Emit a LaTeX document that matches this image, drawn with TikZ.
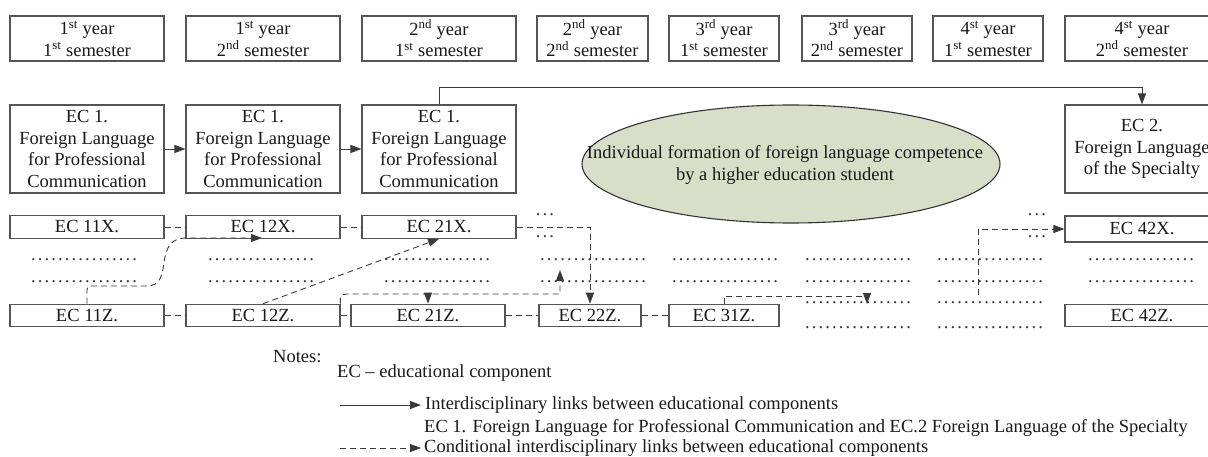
\documentclass[tikz,border=0pt]{standalone}
\usepackage{fontspec}
\setmainfont{Liberation Serif}
\usetikzlibrary{arrows.meta,shapes.geometric,calc}
\definecolor{boxline}{HTML}{555555}
\definecolor{linkline}{HTML}{3A3A3A}
\definecolor{sage}{HTML}{D9DEC8}
\definecolor{ellline}{HTML}{333333}
\newcommand\dotrow[1]{\hbox to #1pt{\xleaders\hbox to 6.75pt{\hss.\hss}\hfill}}
\newcommand\sups[1]{\textsuperscript{#1}}
\begin{document}
\begin{tikzpicture}[x=1pt,y=-1pt,
  every node/.style={font=\fontsize{18.5}{21.7}\selectfont, text=black!90, inner sep=0pt},
  box/.style={draw=boxline, line width=1.1pt, align=center, fill=white},
  sem/.style={box, minimum height=45pt},
  ecbig/.style={box, minimum height=88pt, minimum width=154pt},
  ecrow/.style={box, minimum height=22.5pt},
  dotsrow/.style={anchor=base, text=black!80},
  link/.style={draw=linkline, line width=0.9pt, dash pattern=on 6pt off 4pt},
  solidlink/.style={draw=linkline, line width=0.9pt},
  tip/.style={-{Triangle[length=11pt,width=8pt]}},
  legend/.style={anchor=base west},
]
\useasboundingbox (0,0) rectangle (1208,457);

% semester boxes
\node[sem, minimum width=154pt] (s1) at (87,38.5) {1\sups{st} year\\1\sups{st} semester};
\node[sem, minimum width=154pt] (s2) at (263,38.5) {1\sups{st} year\\2\sups{nd} semester};
\node[sem, minimum width=154pt] (s3) at (439,38.5) {2\sups{nd} year\\1\sups{st} semester};
\node[sem, minimum width=111pt] (s4) at (592.5,38.5) {2\sups{nd} year\\2\sups{nd} semester};
\node[sem, minimum width=110pt] (s5) at (724,38.5) {3\sups{rd} year\\1\sups{st} semester};
\node[sem, minimum width=110pt] (s6) at (857,38.5) {3\sups{rd} year\\2\sups{nd} semester};
\node[sem, minimum width=110pt] (s7) at (988,38.5) {4\sups{st} year\\1\sups{st} semester};
\node[sem, minimum width=154pt] (s8) at (1142,38.5) {4\sups{st} year\\2\sups{nd} semester};

% EC 1 boxes
\node[ecbig] (a1) at (87,149) {EC 1.\\Foreign Language\\for Professional\\Communication};
\node[ecbig] (a2) at (263,149) {EC 1.\\Foreign Language\\for Professional\\Communication};
\node[ecbig] (a3) at (439,149) {EC 1.\\Foreign Language\\for Professional\\Communication};
\node[ecbig] (ec2) at (1142,149) {EC 2.\\Foreign Language\\of the Specialty};

\draw[solidlink,tip] (a1.east) -- (a2.west);
\draw[solidlink,tip] (a2.east) -- (a3.west);
\draw[solidlink,tip] (a3.north) -- ++(0,-17) -| (ec2.north);

% ellipse
\node[ellipse, draw=ellline, line width=1.1pt, fill=sage, minimum width=418pt, minimum height=118pt] (ell) at (791,164) {};
\node[align=center] (elltext) at (785,165)
  {Individual formation of foreign language competence\\by a higher education student};

% X row
\node[ecrow, minimum width=154pt] (x11) at (87,227) {EC 11X.};
\node[ecrow, minimum width=154pt] (x12) at (263,227) {EC 12X.};
\node[ecrow, minimum width=154pt] (x21) at (439,227) {EC 21X.};
\node[box, minimum width=154pt, minimum height=26pt] (x42) at (1142,229) {EC 42X.};

% Z row
\node[ecrow, minimum width=154pt] (z11) at (87,315.5) {EC 11Z.};
\node[ecrow, minimum width=154pt] (z12) at (263,315.5) {EC 12Z.};
\node[ecrow, minimum width=154pt] (z21) at (428,315.5) {EC 21Z.};
\node[ecrow, minimum width=102pt] (z22) at (590,315.5) {EC 22Z.};
\node[ecrow, minimum width=110pt] (z31) at (724,315.5) {EC 31Z.};
\node[ecrow, minimum width=154pt] (z42) at (1142,315.5) {EC 42Z.};

% dotted rows
\foreach \cx/\nm in {84/c1,261/c2,437/c3,593/c4,725/c5,858/c6,990/c7,1141/c8}{
  \node[dotsrow] (\nm r1) at (\cx,261) {\dotrow{108}};
  \node[dotsrow] (\nm r2) at (\cx,283) {\dotrow{108}};
}
\foreach \cx/\nm in {858/c6,990/c7}{
  \node[dotsrow] (\nm r3) at (\cx,304) {\dotrow{108}};
  \node[dotsrow] (\nm r4) at (\cx,328) {\dotrow{108}};
}
\node[dotsrow] (e1) at (545,216) {\dotrow{20.25}};
\node[dotsrow] (e2) at (545,238) {\dotrow{20.25}};
\node[dotsrow] (e3) at (1037,216) {\dotrow{20.25}};
\node[dotsrow] (e4) at (1037,238) {\dotrow{20.25}};

% dashed neighbour links
\draw[link] (x11.east) -- (x12.west);
\draw[link] (x12.east) -- (x21.west);
\draw[link] (z11.east) -- (z12.west);
\draw[link] (z12.east) -- (z21.west);
\draw[link] (z21.east) -- (z22.west);
\draw[link] (z22.east) -- (z31.west);

% conditional links
\coordinate (t1) at (262,238);
\draw[link,tip] (z11.north) -- (87,293) .. controls (87,286) .. (94,286) -- (147,286)
   .. controls (160,286) and (162,276) .. (164,263)
   .. controls (166,246) and (172,238) .. (186,238) -- (t1);
\draw[link,tip] (z12.north) -- (x21.south);
\coordinate (b3) at (428,294);
\coordinate (t3) at (560,270);
\draw[link,tip] (z12.north east) .. controls (340,295) .. (347,294) -- (560,294) -- (t3);
\draw[link,tip] (b3) -- (z21.north);
\draw[link,tip] (x21.east) -| (z22.north);
\coordinate (t5) at (867,304);
\draw[link,tip] (z31.north) -- (724,296) -| (t5);
\coordinate (st6) at (978,295);
\draw[link,tip] (st6) |- (x42.west);

% legend
\node[legend] (notes) at (273,362) {Notes:};
\node[legend] (n0) at (337,377) {EC – educational component};
\node[legend] (n1) at (425,409) {Interdisciplinary links between educational components};
\node[legend] (n2) at (424,432) {EC 1. Foreign Language for Professional Communication and EC.2 Foreign Language of the Specialty};
\node[legend] (n3) at (424,452) {Conditional interdisciplinary links between educational components};
\coordinate (l1a) at (340,405);
\coordinate (l1b) at (421,405);
\coordinate (l2a) at (340,448);
\coordinate (l2b) at (421,448);
\draw[solidlink,tip] (l1a) -- (l1b);
\draw[link,tip] (l2a) -- (l2b);
\end{tikzpicture}
\end{document}
